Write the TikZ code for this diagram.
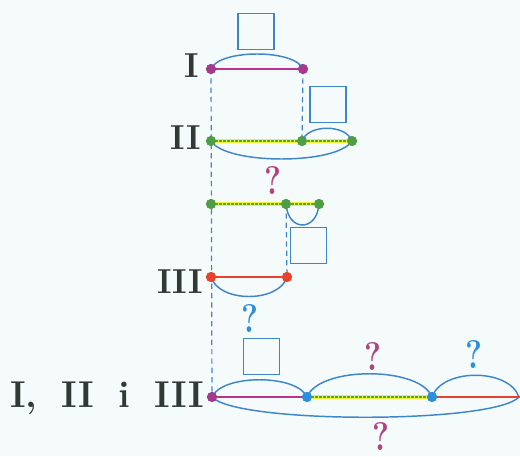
\documentclass[tikz,border=0pt]{standalone}
\definecolor{bg}{HTML}{F5FAFB}
\definecolor{arcblue}{HTML}{3F86C8}
\definecolor{magline}{HTML}{B8348F}
\definecolor{magdot}{HTML}{A33A8E}
\definecolor{greendot}{HTML}{4E9E45}
\definecolor{yel}{HTML}{EEF03A}
\definecolor{grn}{HTML}{4DA54A}
\definecolor{redl}{HTML}{E8432D}
\definecolor{bluedot}{HTML}{2C8FDE}
\definecolor{labtxt}{HTML}{2E3A33}
\definecolor{qmag}{HTML}{B0427F}
\definecolor{qblue}{HTML}{2F8FD6}
\begin{document}
\begin{tikzpicture}[x=0.75pt,y=-0.75pt,
  arcline/.style={draw=arcblue,line width=1.1pt},
  guide/.style={draw=arcblue,line width=0.9pt,dash pattern=on 4pt off 3pt},
  dotnode/.style={circle,inner sep=0pt,minimum size=7.5pt},
  magseg/.style={draw=magline,line width=2.2pt},
  yelseg/.style={draw=yel,line width=3.2pt},
  grnseg/.style={draw=grn,line width=0.8pt,dash pattern=on 2pt off 1pt},
  redseg/.style={draw=redl,line width=2.2pt},
  emptybox/.style={draw=arcblue,line width=1.1pt,minimum width=27pt,minimum height=27pt,inner sep=0pt},
  rowlabel/.style={text=labtxt,font=\fontsize{26}{26}\selectfont\bfseries,inner sep=0pt},
  qm/.style={font=\fontsize{24}{24}\selectfont\bfseries,yscale=1.25,inner sep=0pt}]
\useasboundingbox (0,0) rectangle (520,456);
\fill[bg] (0,0) rectangle (520,456);
\begin{scope}
\clip (0,0) rectangle (520,456);
% dot positions
\node[dotnode,fill=magdot] (I1) at (211,69) {};
\node[dotnode,fill=magdot] (I2) at (303,69) {};
\node[dotnode,fill=greendot] (A1) at (211,141) {};
\node[dotnode,fill=greendot] (A2) at (302,141) {};
\node[dotnode,fill=greendot] (A3) at (352,141) {};
\node[dotnode,fill=greendot] (B1) at (211,204) {};
\node[dotnode,fill=greendot] (B2) at (286,204) {};
\node[dotnode,fill=greendot] (B3) at (319,204) {};
\node[dotnode,fill=redl] (C1) at (211,277) {};
\node[dotnode,fill=redl] (C2) at (287,277) {};
\node[dotnode,fill=magdot] (D1) at (212,397) {};
\node[dotnode,fill=bluedot] (D2) at (307,397) {};
\node[dotnode,fill=bluedot] (D3) at (432,397) {};
\coordinate (D4) at (519,397);
\coordinate (D5) at (526,397);
% dashed guides
\draw[guide] (I1.center) -- (D1.center);
\draw[guide] (I2.center) -- (A2.center);
\draw[guide] (B2.center) -- (C2.center);
% arcs
\draw[arcline] (I1.center) .. controls +(8,-20) and +(-8,-20) .. (I2.center);
\draw[arcline] (A2.center) .. controls +(6,-17) and +(-6,-17) .. (A3.center);
\draw[arcline] (A1.center) .. controls +(15,24) and +(-15,24) .. (A3.center);
\draw[arcline] (B2.center) .. controls +(2,28) and +(-2,28) .. (B3.center);
\draw[arcline] (C1.center) .. controls +(8,26) and +(-8,26) .. (C2.center);
\draw[arcline] (D1.center) .. controls +(10,-23) and +(-10,-23) .. (D2.center);
\draw[arcline] (D2.center) .. controls +(12,-31) and +(-12,-31) .. (D3.center);
\draw[arcline] (D3.center) .. controls +(10,-29) and +(-10,-29) .. (D4);
\draw[arcline] (D1.center) .. controls +(25,27) and +(-25,27) .. (D4);
% segments
\draw[magseg] (I1.center) -- (I2.center);
\draw[yelseg] (A1.center) -- (A3.center);
\draw[grnseg] (A1.center) -- (A3.center);
\draw[yelseg] (B1.center) -- (B3.center);
\draw[grnseg] (B1.center) -- (B3.center);
\draw[redseg] (C1.center) -- (C2.center);
\draw[magseg] (D1.center) -- (D2.center);
\draw[yelseg] (D2.center) -- (D3.center);
\draw[grnseg] (D2.center) -- (D3.center);
\draw[redseg] (D3.center) -- (D5);
% redraw dots on top
\foreach \n/\c in {I1/magdot,I2/magdot,A1/greendot,A2/greendot,A3/greendot,B1/greendot,B2/greendot,B3/greendot,C1/redl,C2/redl,D1/magdot,D2/bluedot,D3/bluedot}
  \fill[\c] (\n) circle (3.75pt);
% boxes
\node[emptybox] (boxI) at (256,31.5) {};
\node[emptybox] (boxII) at (328,104.5) {};
\node[emptybox] (boxIII) at (308.5,245.5) {};
\node[emptybox] (boxD) at (261.5,356.5) {};
% labels
\node[rowlabel,anchor=east] (labI) at (199,66) {I};
\node[rowlabel,anchor=east] (labII) at (201,138) {II};
\node[rowlabel,anchor=east] (labIII) at (203,282) {III};
\node[rowlabel,anchor=east,font=\fontsize{28}{28}\selectfont\bfseries] (labAll) at (204,398) {I,\hspace{0.65em}II\hspace{0.65em}i\hspace{0.65em}III};
% question marks
\node[qm,text=qmag] (q1) at (273,180) {?};
\node[qm,text=qblue] (q2) at (250,318) {?};
\node[qm,text=qmag] (q3) at (373,356) {?};
\node[qm,text=qblue] (q4) at (474,354) {?};
\node[qm,text=qmag] (q5) at (381,436) {?};
\end{scope}
\end{tikzpicture}
\end{document}
